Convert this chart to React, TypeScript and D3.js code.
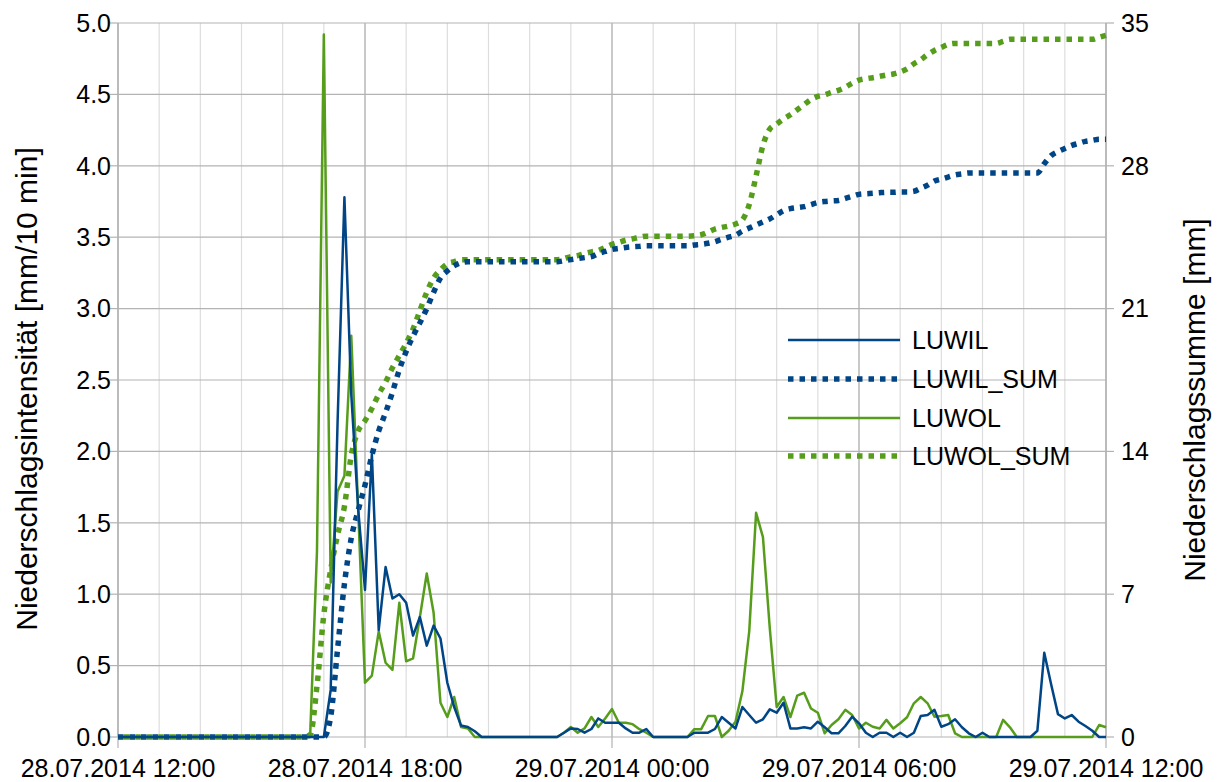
import React from "react";
import * as d3 from "d3";

// 10-minute precipitation intensity [mm/10 min], starting 28.07.2014 12:00
const LUWIL: number[] = [
  0, 0, 0, 0, 0, 0, 0, 0, 0, 0, 0, 0, 0, 0, 0, 0, 0, 0, 0, 0,
  0, 0, 0, 0, 0, 0, 0, 0, 0, 0, 0, 0.33, 2.2, 3.78, 2.4, 1.6, 1.03, 1.98, 0.75, 1.19,
  0.97, 1.0, 0.94, 0.71, 0.84, 0.64, 0.78, 0.69, 0.38, 0.21, 0.08, 0.07, 0.04, 0, 0, 0, 0, 0, 0, 0,
  0, 0, 0, 0, 0, 0.03, 0.06, 0.056, 0.03, 0.056, 0.13, 0.1, 0.1, 0.1, 0.06, 0.03, 0.03, 0.056, 0, 0,
  0, 0, 0, 0, 0.03, 0.03, 0.03, 0.056, 0.14, 0.1, 0.06, 0.21, 0.154, 0.1, 0.124, 0.194, 0.17, 0.24, 0.06, 0.06,
  0.068, 0.06, 0.107, 0.068, 0.026, 0.026, 0.077, 0.142, 0.096, 0.03, 0, 0.03, 0.03, 0, 0.03, 0, 0.03, 0.147, 0.154, 0.19,
  0.072, 0.09, 0.124, 0.068, 0.026, 0, 0.03, 0, 0, 0, 0, 0, 0, 0, 0.044, 0.59, 0.37, 0.16, 0.13, 0.154,
  0.107, 0.077, 0.044, 0, 0,
];

const LUWOL: number[] = [
  0, 0, 0, 0, 0, 0, 0, 0, 0, 0, 0, 0, 0, 0, 0, 0, 0, 0, 0, 0,
  0, 0, 0, 0, 0, 0, 0, 0, 0, 1.3, 4.92, 1.08, 1.72, 1.83, 2.81, 1.6, 0.38, 0.43, 0.74, 0.52,
  0.47, 0.94, 0.53, 0.55, 0.84, 1.145, 0.87, 0.24, 0.14, 0.28, 0.07, 0.06, 0, 0, 0, 0, 0, 0, 0, 0,
  0, 0, 0, 0, 0, 0.03, 0.07, 0.03, 0.06, 0.14, 0.07, 0.13, 0.196, 0.1, 0.1, 0.09, 0.055, 0.03, 0, 0,
  0, 0, 0, 0, 0.055, 0.055, 0.147, 0.147, 0, 0.044, 0.107, 0.32, 0.74, 1.57, 1.4, 0.76, 0.21, 0.28, 0.14, 0.29,
  0.31, 0.2, 0.17, 0.026, 0.084, 0.124, 0.19, 0.154, 0.06, 0.1, 0.072, 0.06, 0.12, 0.06, 0.096, 0.138, 0.236, 0.28, 0.236, 0.142,
  0.147, 0.154, 0.026, 0, 0, 0, 0, 0, 0, 0.12, 0.068, 0, 0, 0, 0, 0, 0, 0, 0, 0,
  0, 0, 0, 0.084, 0.068,
];

// Accumulated precipitation [mm]
const LUWIL_SUM: number[] = [
  0, 0, 0, 0, 0, 0, 0, 0, 0, 0, 0, 0, 0, 0, 0, 0, 0, 0, 0, 0,
  0, 0, 0, 0, 0, 0, 0, 0, 0, 0, 0, 1.0, 4.3, 7.5, 9.75, 11.1, 12.35, 13.8, 15.0, 15.9,
  16.9, 18.0, 18.9, 19.65, 20.3, 21.0, 21.8, 22.5, 22.85, 23.1, 23.25, 23.3, 23.3, 23.3, 23.3, 23.3, 23.3, 23.3, 23.3, 23.3,
  23.3, 23.3, 23.3, 23.3, 23.3, 23.35, 23.4, 23.45, 23.5, 23.55, 23.7, 23.8, 23.9, 23.95, 24.0, 24.03, 24.05, 24.08, 24.08, 24.08,
  24.08, 24.08, 24.08, 24.08, 24.12, 24.15, 24.2, 24.28, 24.4, 24.5, 24.6, 24.8, 24.95, 25.1, 25.25, 25.4, 25.6, 25.8, 25.9, 25.95,
  26.0, 26.1, 26.2, 26.25, 26.28, 26.3, 26.4, 26.5, 26.6, 26.63, 26.65, 26.68, 26.7, 26.7, 26.72, 26.72, 26.75, 26.9, 27.05, 27.25,
  27.35, 27.45, 27.55, 27.6, 27.65, 27.65, 27.65, 27.65, 27.65, 27.65, 27.65, 27.65, 27.65, 27.65, 27.65, 28.1, 28.5, 28.7, 28.85, 29.0,
  29.1, 29.2, 29.25, 29.3, 29.3,
];

const LUWOL_SUM: number[] = [
  0, 0, 0, 0, 0, 0, 0, 0, 0, 0, 0, 0, 0, 0, 0, 0, 0, 0, 0, 0,
  0, 0, 0, 0, 0, 0, 0, 0, 0.1, 2.5, 6.0, 8.2, 9.9, 11.3, 13.8, 15.0, 15.5, 16.1, 16.8, 17.4,
  18.1, 18.7, 19.3, 20.0, 20.9, 21.8, 22.5, 22.9, 23.2, 23.3, 23.4, 23.4, 23.4, 23.4, 23.4, 23.4, 23.4, 23.4, 23.4, 23.4,
  23.4, 23.4, 23.4, 23.4, 23.4, 23.45, 23.55, 23.6, 23.7, 23.78, 23.85, 24.0, 24.15, 24.25, 24.35, 24.42, 24.5, 24.55, 24.55, 24.55,
  24.55, 24.55, 24.55, 24.55, 24.57, 24.62, 24.75, 24.9, 24.98, 25.05, 25.15, 25.35, 26.1, 27.5, 29.0, 29.8, 30.05, 30.3, 30.5, 30.75,
  31.0, 31.25, 31.4, 31.48, 31.6, 31.7, 31.85, 32.05, 32.2, 32.27, 32.32, 32.38, 32.45, 32.5, 32.6, 32.75, 33.0, 33.2, 33.45, 33.65,
  33.8, 33.95, 34.0, 34.0, 34.0, 34.0, 34.0, 34.0, 34.0, 34.1, 34.2, 34.2, 34.2, 34.2, 34.2, 34.2, 34.2, 34.2, 34.2, 34.2,
  34.2, 34.2, 34.2, 34.3, 34.4,
];

const X_TICK_LABELS = [
  "28.07.2014 12:00",
  "28.07.2014 18:00",
  "29.07.2014 00:00",
  "29.07.2014 06:00",
  "29.07.2014 12:00",
];
const Y_LEFT_TICKS = [0, 0.5, 1, 1.5, 2, 2.5, 3, 3.5, 4, 4.5, 5];
const Y_RIGHT_TICKS = [0, 7, 14, 21, 28, 35];

const START = Date.UTC(2014, 6, 28, 12, 0);
const END = Date.UTC(2014, 6, 29, 12, 0);
const STEP_MS = 10 * 60 * 1000;

const BLUE = "#004586";
const GREEN = "#579d1c";
const FONT = "'Liberation Sans', Arial, sans-serif";

const W = 1219;
const H = 782;
const M = { left: 118, right: 1106, top: 23, bottom: 737 };

type Series = {
  name: string;
  values: number[];
  color: string;
  axis: "left" | "right";
  dotted: boolean;
  dashOffset: number;
};

const SERIES: Series[] = [
  { name: "LUWIL", values: LUWIL, color: BLUE, axis: "left", dotted: false, dashOffset: 0 },
  { name: "LUWIL_SUM", values: LUWIL_SUM, color: BLUE, axis: "right", dotted: true, dashOffset: 0 },
  { name: "LUWOL", values: LUWOL, color: GREEN, axis: "left", dotted: false, dashOffset: 0 },
  { name: "LUWOL_SUM", values: LUWOL_SUM, color: GREEN, axis: "right", dotted: true, dashOffset: 5.75 },
];

// drawing order: sums underneath, then intensities; blue sum kept above green sum
const DRAW_ORDER = [3, 1, 2, 0];

export default function App() {
  const x = d3.scaleUtc().domain([new Date(START), new Date(END)]).range([M.left, M.right]);
  const yL = d3.scaleLinear().domain([0, 5]).range([M.bottom, M.top]);
  const yR = d3.scaleLinear().domain([0, 35]).range([M.bottom, M.top]);

  const majorTicks = d3.utcHour.every(6)!.range(new Date(START), new Date(END + 1));
  const minorTicks = d3.utcHour.range(new Date(START), new Date(END + 1));

  const tOf = (i: number) => new Date(START + i * STEP_MS);

  const pathFor = (s: Series) => {
    const y = s.axis === "left" ? yL : yR;
    const line = d3
      .line<number>()
      .x((_, i) => x(tOf(i)))
      .y((v) => y(v))
      .curve(s.dotted ? d3.curveMonotoneX : d3.curveLinear);
    return line(s.values) ?? "";
  };

  const legendX0 = 788;
  const legendX1 = 900;
  const legendY = [340, 379, 418, 456];

  return (
    <svg
      width={W}
      height={H}
      style={{ position: "absolute", left: 0, top: 0, background: "#fff", display: "block" }}
      fontFamily={FONT}
    >
      <rect x={0} y={0} width={W} height={H} fill="#fff" />

      {/* hourly minor grid */}
      {minorTicks.map((t, i) => (
        <line
          key={"mi" + i}
          x1={x(t)}
          x2={x(t)}
          y1={M.top}
          y2={M.bottom}
          stroke="#dddddd"
          strokeWidth={1.2}
        />
      ))}
      {/* horizontal grid */}
      {Y_LEFT_TICKS.map((v) => (
        <line
          key={"hg" + v}
          x1={M.left}
          x2={M.right}
          y1={yL(v)}
          y2={yL(v)}
          stroke="#b3b3b3"
          strokeWidth={1.2}
        />
      ))}
      {/* 6-hour major grid with outward ticks */}
      {majorTicks.map((t, i) => (
        <line
          key={"ma" + i}
          x1={x(t)}
          x2={x(t)}
          y1={M.top}
          y2={M.bottom + 11}
          stroke="#b3b3b3"
          strokeWidth={1.2}
        />
      ))}
      {/* y axis ticks */}
      {Y_LEFT_TICKS.map((v) => (
        <line key={"lt" + v} x1={M.left - 8} x2={M.left} y1={yL(v)} y2={yL(v)} stroke="#b3b3b3" strokeWidth={1.2} />
      ))}
      {Y_RIGHT_TICKS.map((v) => (
        <line key={"rt" + v} x1={M.right} x2={M.right + 8} y1={yR(v)} y2={yR(v)} stroke="#b3b3b3" strokeWidth={1.2} />
      ))}
      <line x1={M.left} x2={M.left} y1={M.top} y2={M.bottom} stroke="#b3b3b3" strokeWidth={1.2} />
      <line x1={M.right} x2={M.right} y1={M.top} y2={M.bottom} stroke="#b3b3b3" strokeWidth={1.2} />

      {/* series */}
      {DRAW_ORDER.map((k) => {
        const s = SERIES[k];
        return (
          <path
            key={s.name}
            d={pathFor(s)}
            fill="none"
            stroke={s.color}
            strokeWidth={s.dotted ? 5.5 : 2.5}
            strokeDasharray={s.dotted ? "5.5 6" : undefined}
            strokeDashoffset={s.dashOffset}
            strokeLinejoin="round"
          />
        );
      })}

      {/* tick labels */}
      {Y_LEFT_TICKS.map((v) => (
        <text key={"ll" + v} x={111} y={yL(v)} dy="0.35em" textAnchor="end" fontSize={25} fill="#000">
          {d3.format(".1f")(v)}
        </text>
      ))}
      {Y_RIGHT_TICKS.map((v) => (
        <text key={"rl" + v} x={1121} y={yR(v)} dy="0.35em" textAnchor="start" fontSize={25} fill="#000">
          {v}
        </text>
      ))}
      {majorTicks.map((t, i) => (
        <text key={"xl" + i} x={x(t)} y={777} textAnchor="middle" fontSize={25} fill="#000">
          {X_TICK_LABELS[i]}
        </text>
      ))}

      {/* axis titles */}
      <text
        transform={`translate(37, ${(M.top + M.bottom) / 2 + 9}) rotate(-90)`}
        textAnchor="middle"
        fontSize={30}
        fill="#000"
      >
        Niederschlagsintensität [mm/10 min]
      </text>
      <text
        transform={`translate(1205, ${(M.top + M.bottom) / 2 + 20}) rotate(-90)`}
        textAnchor="middle"
        fontSize={30}
        fill="#000"
      >
        Niederschlagssumme [mm]
      </text>

      {/* legend */}
      {SERIES.map((s, i) => (
        <g key={"lg" + s.name}>
          <line
            x1={legendX0}
            x2={legendX1}
            y1={legendY[i]}
            y2={legendY[i]}
            stroke={s.color}
            strokeWidth={s.dotted ? 5.5 : 2.5}
            strokeDasharray={s.dotted ? "5.5 6" : undefined}
          />
          <text x={912} y={legendY[i]} dy="0.35em" fontSize={25} fill="#000">
            {s.name}
          </text>
        </g>
      ))}
    </svg>
  );
}
